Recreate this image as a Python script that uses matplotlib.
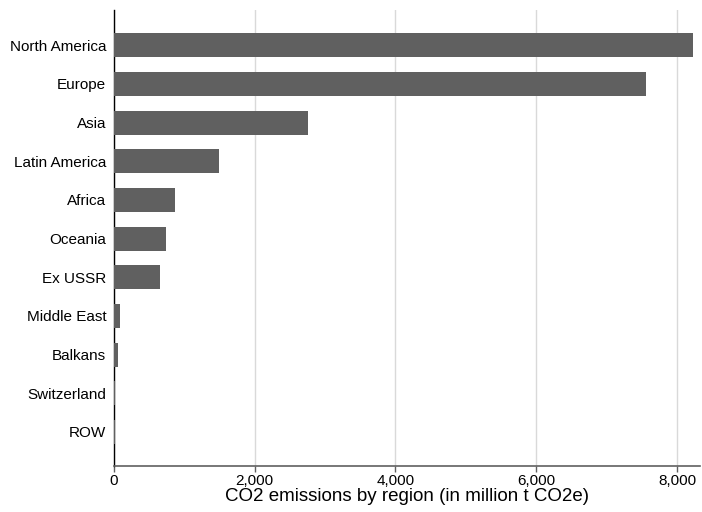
import matplotlib.pyplot as plt
from matplotlib.ticker import FuncFormatter

plt.rcParams['font.family'] = ['Liberation Sans', 'DejaVu Sans']

regions = ['North America', 'Europe', 'Asia', 'Latin America', 'Africa', 'Oceania',
           'Ex USSR', 'Middle East', 'Balkans', 'Switzerland', 'ROW']
emissions = [8230, 7565, 2750, 1490, 865, 737, 652, 85, 57, 19, 14]
xticks = [0, 2000, 4000, 6000, 8000]

fig = plt.figure(figsize=(7.02, 5.12), dpi=100)
ax = fig.add_axes([0.1624, 0.0898, 0.835, 0.890])

ypos = list(range(len(regions)))
ax.barh(ypos, emissions, height=0.62, color='#606060', zorder=3)
ax.set_yticks(ypos)
ax.set_yticklabels(regions, fontsize=11)
ax.set_ylim(len(regions) - 1 + 0.88, -0.9)
ax.set_xlim(0, 8330)
ax.set_xticks(xticks)
ax.xaxis.set_major_formatter(FuncFormatter(lambda v, p: '{:,.0f}'.format(v)))
ax.tick_params(axis='x', labelsize=11, length=4, color='#606060', width=1, pad=2)
ax.tick_params(axis='y', length=0, pad=5.5)
ax.grid(axis='x', color='#d9d9d9', lw=1, zorder=0)
ax.set_xlabel('CO2 emissions by region (in million t CO2e)', fontsize=13.5, labelpad=0)

for s in ['top', 'right']:
    ax.spines[s].set_visible(False)
ax.spines['left'].set_color('black')
ax.spines['bottom'].set_color('#606060')
ax.spines['left'].set_linewidth(1)
ax.spines['bottom'].set_linewidth(1.2)

fig.savefig('out.png', dpi=100)
